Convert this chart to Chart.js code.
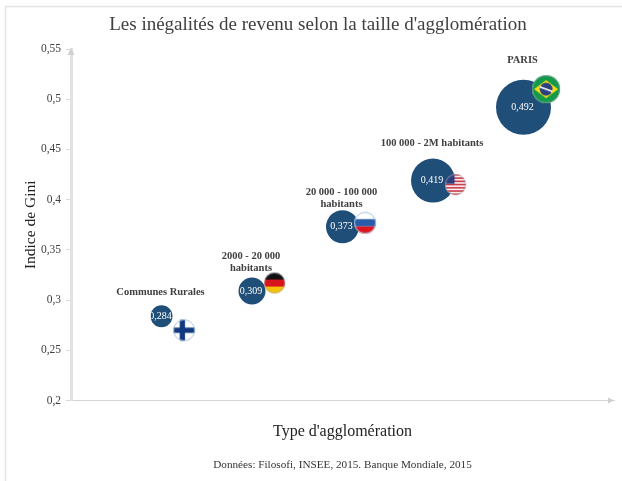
<!DOCTYPE html>
<html>
<head>
<meta charset="utf-8">
<script src="https://cdn.jsdelivr.net/npm/chart.js@4/dist/chart.umd.min.js"></script>
<style>
html, body { margin: 0; padding: 0; background: #fff; overflow: hidden; }
canvas { display: block; }
</style>
</head>
<body>
<canvas id="chart" width="622" height="481"></canvas>
<script>
// Values
var categories = [
    ["Communes Rurales"],
    ["2000 - 20 000", "habitants"],
    ["20 000 - 100 000", "habitants"],
    ["100 000 - 2M habitants"],
    ["PARIS"]
];
var positions = [1, 2, 3, 4, 5];
var gini = [0.284, 0.309, 0.373, 0.419, 0.492];
var bubbleSizes = [11, 13.5, 16.5, 22, 27.5];
var flagCountries = ["finland", "germany", "russia", "usa", "brazil"];
var flagPositions = [1.25, 2.25, 3.25, 4.25, 5.25];
var flagGini = [0.27, 0.317, 0.377, 0.415, 0.51];
var flagSizes = [11, 10.5, 11, 10.5, 14];

var SERIF = "'Liberation Serif', serif";
var BOLD = "bold 10.5px 'Liberation Serif', serif";

// Round flag drawn on its own small canvas, used as a point style
function makeFlag(name, r) {
    var c = document.createElement("canvas");
    c.width = c.height = 2 * r + 2;
    var g = c.getContext("2d");
    var s = 2 * r;
    g.translate(1, 1);
    g.save();
    g.beginPath();
    g.arc(r, r, r, 0, Math.PI * 2);
    g.clip();
    g.fillStyle = "#fff";
    g.fillRect(0, 0, s, s);
    if (name === "finland") {
        g.fillStyle = "#12397f";
        g.fillRect(0, s * 0.38, s, s * 0.24);
        g.fillRect(s * 0.3, 0, s * 0.24, s);
    } else if (name === "germany") {
        g.fillStyle = "#111";
        g.fillRect(0, 0, s, s / 3);
        g.fillStyle = "#d8141c";
        g.fillRect(0, s / 3, s, s / 3);
        g.fillStyle = "#f4c20d";
        g.fillRect(0, 2 * s / 3, s, s / 3);
    } else if (name === "russia") {
        g.fillStyle = "#2a5ba8";
        g.fillRect(0, s / 3, s, s / 3);
        g.fillStyle = "#e0141c";
        g.fillRect(0, 2 * s / 3, s, s / 3);
    } else if (name === "usa") {
        for (var i = 0; i < 7; i++) {
            g.fillStyle = "#c4303f";
            g.fillRect(0, i * s / 6.5, s, s / 13);
        }
        g.fillStyle = "#2b3f7e";
        g.fillRect(0, 0, s * 0.45, s * 0.46);
    } else if (name === "brazil") {
        g.fillStyle = "#109a4a";
        g.fillRect(0, 0, s, s);
        g.fillStyle = "#f7dc17";
        g.beginPath();
        g.moveTo(s * 0.07, r);
        g.lineTo(r, s * 0.18);
        g.lineTo(s * 0.93, r);
        g.lineTo(r, s * 0.82);
        g.closePath();
        g.fill();
        g.fillStyle = "#2b3f85";
        g.beginPath();
        g.arc(r, r, s * 0.23, 0, Math.PI * 2);
        g.fill();
        g.strokeStyle = "#fff";
        g.lineWidth = 1.5;
        g.beginPath();
        g.moveTo(s * 0.28, s * 0.42);
        g.lineTo(s * 0.72, s * 0.58);
        g.stroke();
    }
    g.restore();
    g.strokeStyle = name === "finland" || name === "russia" ? "#a9c4de" : "rgba(160,160,170,0.6)";
    g.lineWidth = 1;
    g.beginPath();
    g.arc(r, r, r - 0.5, 0, Math.PI * 2);
    g.stroke();
    return c;
}

// Gap between the top of each bubble and its category label
var labelGaps = [9, 5, 2, 11, 15];

var annotations = {
    id: "annotations",
    afterDatasetsDraw: function(chart) {
        var ctx = chart.ctx;
        var bubbles = chart.getDatasetMeta(0).data;
        ctx.save();
        ctx.textAlign = "center";
        ctx.textBaseline = "middle";
        bubbles.forEach(function(el, i) {
            ctx.font = "10px " + SERIF;
            ctx.fillStyle = "#fff";
            ctx.fillText(gini[i].toFixed(3).replace(".", ","), el.x - 1, el.y);
            ctx.font = BOLD;
            ctx.fillStyle = "#404040";
            var lines = categories[i];
            var bottom = el.y - bubbleSizes[i] - labelGaps[i];
            lines.forEach(function(line, k) {
                ctx.fillText(line, el.x - 1, bottom - (lines.length - 1 - k) * 12 - 4);
            });
        });
        ctx.restore();
    },
    afterDraw: function(chart) {
        var ctx = chart.ctx;
        var a = chart.chartArea;
        ctx.save();
        // frame of the pasted picture
        ctx.strokeStyle = "#e4e4e4";
        ctx.lineWidth = 1.5;
        ctx.beginPath();
        ctx.moveTo(5.5, 481);
        ctx.lineTo(5.5, 6.5);
        ctx.lineTo(622, 6.5);
        ctx.stroke();
        // axis arrows
        ctx.fillStyle = "#d0d0d0";
        ctx.beginPath();
        ctx.moveTo(a.left, a.top - 1);
        ctx.lineTo(a.left - 3.5, a.top + 6);
        ctx.lineTo(a.left + 3.5, a.top + 6);
        ctx.closePath();
        ctx.fill();
        ctx.beginPath();
        ctx.moveTo(a.right, a.bottom);
        ctx.lineTo(a.right - 6, a.bottom - 3);
        ctx.lineTo(a.right - 6, a.bottom + 3);
        ctx.closePath();
        ctx.fill();
        ctx.restore();
    }
};

new Chart(document.getElementById("chart"), {
    type: "bubble",
    data: {
        datasets: [{
            data: positions.map(function(x, i) {
                return { x: x, y: gini[i], r: bubbleSizes[i] };
            }),
            backgroundColor: "#1f4e79",
            borderWidth: 0,
            hoverRadius: 0,
            clip: false,
            order: 2
        }, {
            type: "scatter",
            data: flagPositions.map(function(x, i) {
                return { x: x, y: flagGini[i] };
            }),
            pointStyle: flagCountries.map(function(name, i) {
                return makeFlag(name, flagSizes[i]);
            }),
            clip: false,
            order: 1
        }]
    },
    plugins: [annotations],
    options: {
        responsive: false,
        animation: false,
        layout: { autoPadding: false, padding: { left: 22, right: 8, top: 9, bottom: 6 } },
        plugins: {
            legend: { display: false },
            tooltip: { enabled: false },
            title: {
                display: true,
                text: "Les inégalités de revenu selon la taille d'agglomération",
                color: "#404040",
                font: { family: SERIF, size: 19, weight: "normal" },
                padding: { top: 5, bottom: 12.2 }
            },
            subtitle: {
                display: true,
                position: "bottom",
                fullSize: false,
                text: "Données: Filosofi, INSEE, 2015. Banque Mondiale, 2015",
                color: "#333",
                font: { family: SERIF, size: 11.2 },
                padding: { top: 0, bottom: 3 }
            }
        },
        scales: {
            x: {
                type: "linear",
                min: 0,
                max: 6,
                ticks: { display: false },
                grid: { display: false },
                border: { color: "#d4d4d4", width: 1 },
                title: {
                    display: true,
                    text: "Type d'agglomération",
                    color: "#222",
                    font: { family: SERIF, size: 16 },
                    padding: { top: 14, bottom: 17 }
                },
                afterFit: function(scale) { scale.height = 58; }
            },
            y: {
                min: 0.2,
                max: 0.55,
                ticks: {
                    stepSize: 0.05,
                    color: "#404040",
                    padding: 5,
                    font: { family: SERIF, size: 11.5 },
                    callback: function(v) {
                        return String(+v.toFixed(2)).replace(".", ",");
                    }
                },
                grid: { drawOnChartArea: false, tickLength: 5, color: "#d9d9d9" },
                border: { color: "#e2e2e2", width: 3 },
                title: {
                    display: true,
                    text: "Indice de Gini",
                    color: "#222",
                    font: { family: SERIF, size: 15.5 },
                    padding: { top: 0, bottom: 2 }
                },
                afterFit: function(scale) { scale.width = 49; }
            }
        }
    }
});
</script>
</body>
</html>
